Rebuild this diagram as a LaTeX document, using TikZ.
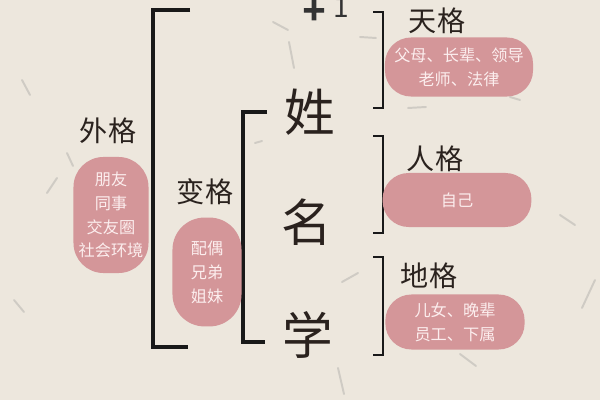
\documentclass[tikz,border=0pt]{standalone}
\usepackage{fontspec}
\newfontfamily\cjk{Noto Sans CJK SC}
\newfontfamily\plusfont[FakeBold=3]{DejaVu Sans Bold}
\usetikzlibrary{positioning}
\definecolor{paper}{RGB}{237,231,221}
\definecolor{pillpink}{RGB}{212,150,153}
\definecolor{pilltext}{RGB}{252,238,238}
\definecolor{inkbrown}{RGB}{42,34,30}

\begin{document}
\begin{tikzpicture}[
        x=0.025cm, y=-0.025cm,
        pill/.style={fill=pillpink, rounded corners=0.65cm, align=center, inner sep=0pt, text=pilltext, font=\cjk\fontsize{11.5}{17}\selectfont},
        title/.style={text=inkbrown, font=\cjk\fontsize{20}{24}\selectfont},
        bigchar/.style={text=inkbrown, font=\cjk\fontsize{36}{40}\selectfont},
        bracket/.style={draw=black!90, line width=1.6pt},
        fibre/.style={draw=black!45, opacity=0.3, line width=1.4pt, line cap=round}
    ]
        % Paper
        \fill[paper] (0,0) rectangle (600,400);
        \useasboundingbox (0,0) rectangle (600,400);
        \foreach \xa/\ya/\xb/\yb in {273/22/288/30, 289/42/294/68, 255/143/262/141, 338/368/344/394,
                                     342/282/358/273, 460/354/476/366, 582/308/595/280, 360/37/376/38,
                                     408/108/426/107, 510/97/520/100, 47/193/57/178, 67/153/73/166,
                                     22/80/30/95, 14/300/24/312, 560/215/575/225}
            \draw[fibre] (\xa,\ya) -- (\xb,\yb);

        % Brackets
        \draw[bracket, line width=3.4pt] (190,10) -- (153,10) -- (153,347) -- (188,347);
        \draw[bracket, line width=2.2pt] (267,112) -- (243,112) -- (243,342) -- (265,342);
        \draw[bracket] (373,12) -- (383,12) -- (383,108) -- (373,108);
        \draw[bracket] (373,136) -- (383,136) -- (383,233) -- (373,233);
        \draw[bracket] (373,257) -- (383,257) -- (383,355) -- (373,355);

        % Center
        \node[text=black!80, font=\plusfont\fontsize{22}{24}\selectfont, anchor=base] (plus) at (314,20) {+};
        \node[text=black!80, font=\cjk\fontsize{20}{24}\selectfont, anchor=base] (one) at (341,18) {1};
        \node[bigchar] (xing) at (310,112) {姓};
        \node[bigchar] (ming) at (307,222) {名};
        \node[bigchar] (xue) at (308,335) {学};

        % Right side
        \node[title] (tian) at (437,21) {天格};
        \node[pill, minimum width=3.7cm, minimum height=1.475cm] (tianp) at (459,67) {父母、长辈、领导\\老师、法律};
        \node[title] (ren) at (435,159) {人格};
        \node[pill, minimum width=3.72cm, minimum height=1.35cm] (renp) at (457,200) {自己};
        \node[title] (di) at (429,276) {地格};
        \node[pill, minimum width=3.48cm, minimum height=1.375cm] (dip) at (455,322) {儿女、晚辈\\员工、下属};

        % Left side
        \node[title] (wai) at (108,131) {外格};
        \node[pill, rounded corners=0.75cm, minimum width=1.875cm, minimum height=2.9cm] (waip) at (111,215) {朋友\\同事\\交友圈\\社会环境};
        \node[title] (bian) at (205,192) {变格};
        \node[pill, rounded corners=0.8cm, minimum width=1.725cm, minimum height=2.72cm] (bianp) at (207,272) {配偶\\兄弟\\姐妹};
    \end{tikzpicture}
\end{document}
